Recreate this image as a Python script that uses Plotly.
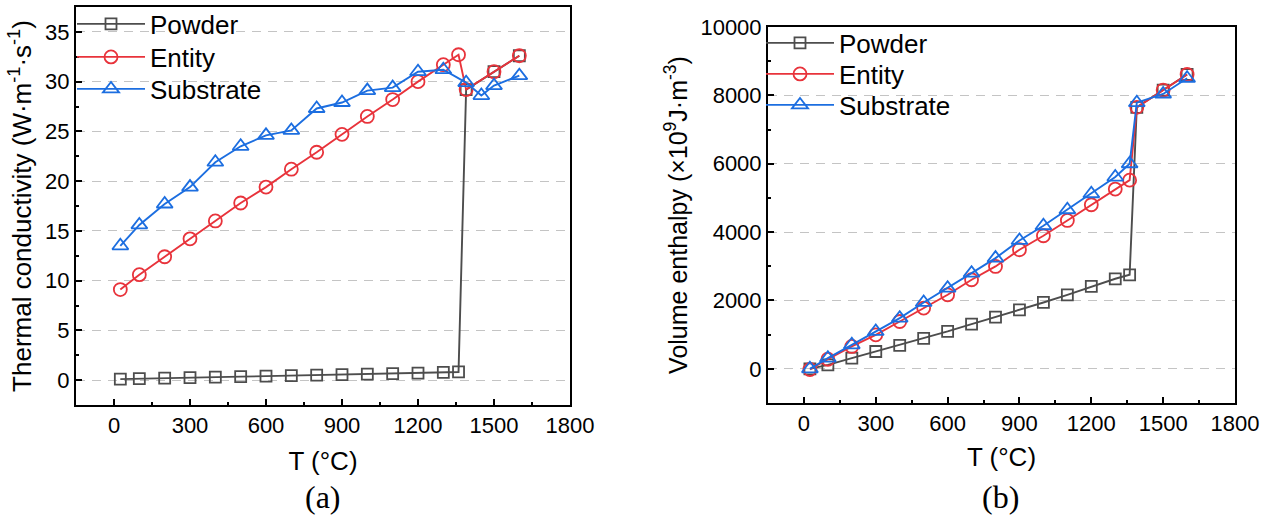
import plotly.graph_objects as go

# ---------------- data ----------------
# Panel (a): thermal conductivity (W·m^-1·s^-1)
T_powder_a = [25, 100, 200, 300, 400, 500, 600, 700, 800, 900, 1000, 1100, 1200, 1300, 1360, 1390, 1500, 1600]
k_powder = [0.1, 0.15, 0.2, 0.25, 0.3, 0.35, 0.4, 0.45, 0.5, 0.55, 0.6, 0.65, 0.7, 0.77, 0.82, 29.2, 31.0, 32.6]

T_entity_a = [25, 100, 200, 300, 400, 500, 600, 700, 800, 900, 1000, 1100, 1200, 1300, 1360, 1390, 1500, 1600]
k_entity = [9.1, 10.6, 12.4, 14.2, 16.0, 17.8, 19.4, 21.2, 22.9, 24.7, 26.5, 28.2, 30.0, 31.7, 32.7, 29.2, 31.0, 32.6]

T_substrate_a = [25, 100, 200, 300, 400, 500, 600, 700, 800, 900, 1000, 1100, 1200, 1300, 1390, 1450, 1500, 1600]
k_substrate = [13.5, 15.6, 17.7, 19.4, 21.9, 23.5, 24.6, 25.1, 27.3, 27.9, 29.1, 29.4, 31.0, 31.2, 29.9, 28.6, 29.6, 30.6]

# Panel (b): volume enthalpy (x10^9 J·m^-3)
T_b = [25, 100, 200, 300, 400, 500, 600, 700, 800, 900, 1000, 1100, 1200, 1300, 1360, 1390, 1500, 1600]
h_powder = [0, 117, 312, 507, 683, 888, 1093, 1307, 1512, 1727, 1941, 2166, 2410, 2634, 2751, 7650, 8155, 8610]
h_entity = [-20, 280, 654, 995, 1385, 1776, 2166, 2605, 2995, 3483, 3893, 4341, 4800, 5258, 5520, 7650, 8155, 8610]
h_substrate = [0, 312, 702, 1093, 1483, 1941, 2361, 2800, 3239, 3756, 4185, 4654, 5122, 5610, 6000, 7786, 8040, 8500]

series_names = ["Powder", "Entity", "Substrate"]
colors = ["#4d4d4d", "#e8333b", "#1c6ee0"]
symbols = ["square-open", "circle-open", "triangle-up-open"]
msizes = [11, 13, 14]

x_ticks = [0, 300, 600, 900, 1200, 1500, 1800]
y_ticks_a = [0, 5, 10, 15, 20, 25, 30, 35]
y_ticks_b = [0, 2000, 4000, 6000, 8000, 10000]
y_ticklabels_b = ["0", "2000", "4000", "6000", "8000", "10000"]

FONT = "Liberation Sans, Arial, sans-serif"
SERIF = "Liberation Serif, Times New Roman, serif"

# legend entry rows (pixel centres from the top) for each panel
legend_rows_a = [24, 57, 89]
legend_rows_b = [43, 74, 105]
legend_x_a = 72
legend_x_b = 761

fig = go.Figure()

data_a = [(T_powder_a, k_powder), (T_entity_a, k_entity), (T_substrate_a, k_substrate)]
data_b = [(T_b, h_powder), (T_b, h_entity), (T_b, h_substrate)]

legend_ids_a = ["legend", "legend2", "legend3"]
legend_ids_b = ["legend4", "legend5", "legend6"]

for i, (xs, ys) in enumerate(data_a):
    fig.add_trace(go.Scatter(
        x=xs, y=ys, name=series_names[i], mode="lines+markers", showlegend=True,
        line=dict(color=colors[i], width=1.9),
        marker=dict(symbol=symbols[i], size=msizes[i], color=colors[i], line=dict(width=1.8, color=colors[i])),
        xaxis="x", yaxis="y", legend=legend_ids_a[i],
    ))
for i, (xs, ys) in enumerate(data_b):
    fig.add_trace(go.Scatter(
        x=xs, y=ys, name=series_names[i], mode="lines+markers", showlegend=True,
        line=dict(color=colors[i], width=1.9),
        marker=dict(symbol=symbols[i], size=msizes[i], color=colors[i], line=dict(width=1.8, color=colors[i])),
        xaxis="x2", yaxis="y2", legend=legend_ids_b[i],
    ))

axis_common = dict(
    showline=True, linecolor="black", linewidth=2, mirror=True,
    ticks="inside", ticklen=6, tickwidth=1.5, tickcolor="black",
    tickfont=dict(family=FONT, size=22, color="black"),
    zeroline=False, automargin=False,
)
grid_common = dict(showgrid=True, gridcolor="#c4c4c4", griddash="9px,7px", gridwidth=1.4)

legend_layout = {}
for lid, row in zip(legend_ids_a, legend_rows_a):
    legend_layout[lid] = dict(x=legend_x_a/1270, y=(521-row)/521, xanchor="left", yanchor="middle",
                              bgcolor="rgba(0,0,0,0)", font=dict(family=FONT, size=26), itemwidth=68,
                              visible=True)
for lid, row in zip(legend_ids_b, legend_rows_b):
    legend_layout[lid] = dict(x=legend_x_b/1270, y=(521-row)/521, xanchor="left", yanchor="middle",
                              bgcolor="rgba(0,0,0,0)", font=dict(family=FONT, size=26), itemwidth=68,
                              visible=True)

fig.update_layout(
    template="none",
    showlegend=True,
    width=1270, height=521,
    margin=dict(l=0, r=0, t=0, b=0, pad=0, autoexpand=False),
    paper_bgcolor="white", plot_bgcolor="white",
    font=dict(family=FONT, color="black"),
    xaxis=dict(domain=[76/1270, 570/1270], range=[-150, 1800], tickvals=x_ticks,
               showgrid=False, anchor="y",
               minor=dict(ticks="inside", ticklen=3, tickcolor="black", dtick=150, tick0=0, showgrid=False),
               title=dict(text="T (°C)", font=dict(family=FONT, size=26, color="black"), standoff=14),
               **axis_common),
    yaxis=dict(domain=[(521-405)/521, (521-7)/521], range=[-2.5, 37.5], tickvals=y_ticks_a,
               anchor="x",
               minor=dict(ticks="inside", ticklen=3, tickcolor="black", dtick=2.5, tick0=0, showgrid=False),
               title=dict(text="Thermal conductivity (W·m<sup>-1</sup>·s<sup>-1</sup>)",
                          font=dict(family=FONT, size=26, color="black"), standoff=6),
               **grid_common, **axis_common),
    xaxis2=dict(domain=[768/1270, 1235/1270], range=[-150, 1800], tickvals=x_ticks,
                showgrid=False, anchor="y2",
                minor=dict(ticks="inside", ticklen=3, tickcolor="black", dtick=150, tick0=0, showgrid=False),
                title=dict(text="T (°C)", font=dict(family=FONT, size=26, color="black"), standoff=12),
                **axis_common),
    yaxis2=dict(domain=[(521-403)/521, (521-27)/521], range=[-1000, 10000], tickvals=y_ticks_b,
                ticktext=y_ticklabels_b,
                anchor="x2",
                minor=dict(ticks="inside", ticklen=3, tickcolor="black", dtick=1000, tick0=0, showgrid=False),
                title=dict(text="Volume enthalpy (×10<sup>9</sup>J·m<sup>-3</sup>)",
                           font=dict(family=FONT, size=25, color="black"), standoff=6),
                **grid_common, **axis_common),
    annotations=[
        dict(text="(a)", x=323/1270, y=(521-497)/521, xref="paper", yref="paper",
             xanchor="center", yanchor="middle",
             showarrow=False, font=dict(family=SERIF, size=32, color="black")),
        dict(text="(b)", x=1001/1270, y=(521-497)/521, xref="paper", yref="paper",
             xanchor="center", yanchor="middle",
             showarrow=False, font=dict(family=SERIF, size=32, color="black")),
    ],
    **legend_layout,
)

fig.write_html("out.html")
